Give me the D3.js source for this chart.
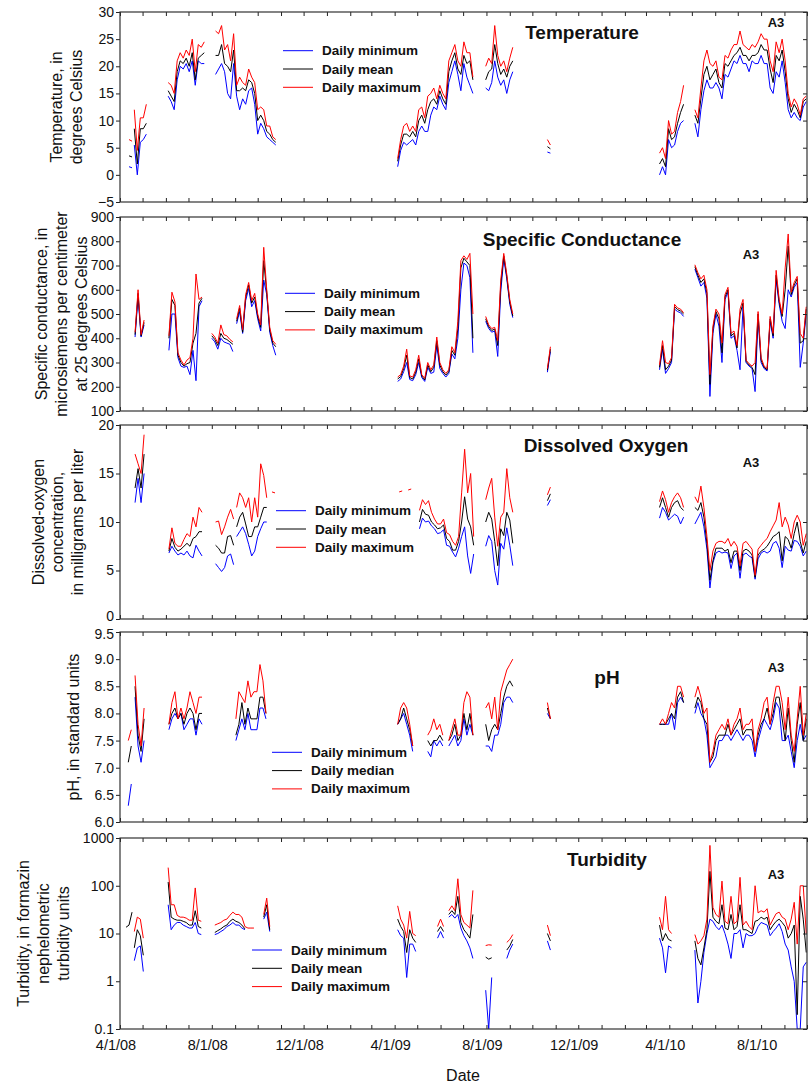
<!DOCTYPE html>
<html>
<head>
<meta charset="utf-8">
<title>Water-quality monitor A3, 2008-2010</title>
<script src="https://d3js.org/d3.v7.min.js"></script>
<style>
  body { margin: 0; background: #fff; }
  svg text { font-family: "Liberation Sans", Arial, sans-serif; fill: #111; }
  .tick text { font-size: 14px; }
  .title { font-size: 19px; font-weight: bold; }
  .site { font-size: 13px; font-weight: bold; }
  .legend text { font-size: 13.5px; font-weight: bold; }
  .ytitle { font-size: 16px; }
</style>
</head>
<body>
<svg id="chart" width="811" height="1083"></svg>
<script>
// readings are every 4 days inside each run; a run starts at the date given in *Starts
var stepDays = 4;

// ---------- Temperature (deg C) ----------
var tempStarts = ["2008-04-13", "2008-04-20", "2008-06-04", "2008-08-06", "2009-04-05", "2009-07-31", "2009-10-21", "2010-03-19", "2010-05-05"];
var tempMin = [
  [1.5, 1.3],
  [5.5, 0, 6, 6.5, 7.5],
  [14.5, 13.5, 12, 17.5, 20, 19.5, 20.5, 19, 21, 16.5, 21, 20.5, 20.5],
  [18.5, 19.5, 20.5, 19, 15, 14, 20.5, 14.5, 12, 14, 13, 15.5, 16, 13, 7.5, 9.5, 8.5, 7, 6.5, 6, 5.5],
  [1.5, 4.5, 6, 5.5, 6, 6.5, 5.5, 8, 9, 8, 8, 11, 12.5, 12, 14.5, 13, 12, 17, 19, 21, 18.5, 15.5, 20.5, 18, 16.5, 15],
  [16, 15.5, 17, 21, 18, 16.5, 17.5, 15, 17.5, 19],
  [4.2, 4],
  [0, 1.5, 0, 6.5, 5, 5.5, 8, 9.5, 10],
  [9.5, 7, 12, 15.5, 17.5, 16, 16, 17, 16, 14, 18.5, 18, 19.5, 21, 20.5, 22, 20.5, 20.5, 19, 21, 20.5, 20.5, 22, 20.5, 20.5, 16, 15, 19, 18, 21, 17, 12, 10.5, 11.5, 10.5, 10, 12.5, 13.5]
];
var tempMean = [
  [3.5, 3.3],
  [8.5, 2, 8.5, 8.5, 9.5],
  [15.5, 14.5, 13.5, 19, 21, 20.5, 21.5, 20, 22.5, 17.5, 21.5, 22, 22.5],
  [22, 22, 24, 20.5, 20, 19, 23, 15.5, 15.5, 16, 15.5, 17.5, 17, 15, 10, 11, 10, 8, 7.5, 6.5, 6],
  [2.5, 5.5, 7.5, 7.5, 7, 8, 7, 10, 11, 9.5, 12, 13.5, 14, 13, 15.5, 14, 13, 19, 21, 22.5, 19.5, 18.5, 22, 20.5, 21, 17.5],
  [17.5, 19, 19.5, 24, 20.5, 18.5, 19.5, 18, 20, 21],
  [5.2, 4.8],
  [2, 3, 1.5, 8.5, 6.5, 7, 9.5, 11.5, 13],
  [11, 9.5, 14, 18.5, 20, 17.5, 18.5, 19.5, 17, 16, 20.5, 20, 21, 22, 22.5, 23.5, 22, 22, 21, 22, 22, 22.5, 24, 23, 23, 19.5, 17, 22, 21, 23, 19, 14, 11.5, 13, 12, 10.5, 13.5, 14]
];
var tempMax = [
  [6.5, 6.2],
  [12, 4.5, 10.5, 10.5, 13],
  [17, 16.5, 15, 21, 22.5, 21.5, 23, 22, 25, 19, 24, 23.5, 24.5],
  [26.5, 26, 27.5, 23, 24, 21, 26, 16.5, 18, 17, 16.5, 19.5, 18, 17, 12, 12.5, 12, 9, 9, 7, 6.5],
  [3, 6.5, 9, 9.5, 8, 9, 8, 12, 12.5, 10.5, 14.5, 15, 16, 14, 16.5, 15, 14, 21, 22.5, 24, 21, 20, 24.5, 22.5, 22.5, 18],
  [20, 21.5, 20.5, 27.5, 22, 20, 21, 19, 21.5, 23.5],
  [6.5, 5.5],
  [4, 5, 3, 10, 7.5, 8, 11.5, 13.5, 16.5],
  [12, 10.5, 16, 21, 23, 20.5, 20, 21, 18, 17.5, 22, 21.5, 23, 24, 24, 26.5, 24, 23.5, 23, 24, 23.5, 24.5, 26, 25, 25, 21, 19, 24.5, 22.5, 25, 21, 15, 12.5, 14, 13, 11, 14, 14.5]
];
var tempTicks = [-5, 0, 5, 10, 15, 20, 25, 30];

// ---------- Specific conductance (uS/cm at 25 C) ----------
var condStarts = ["2008-04-21", "2008-06-05", "2008-08-01", "2008-09-03", "2009-04-05", "2009-07-31", "2009-10-21", "2010-03-19", "2010-05-05"];
var condMin = [
  [405, 570, 405, 455],
  [350, 500, 500, 320, 285, 280, 285, 250, 350, 225, 530, 555],
  [400, 385, 355, 400, 385, 380, 375, 345],
  [460, 510, 420, 555, 605, 530, 555, 480, 430, 640, 580, 425, 370, 330],
  [222, 232, 262, 300, 230, 225, 250, 300, 238, 222, 280, 255, 260, 370, 275, 255, 240, 255, 335, 315, 400, 600, 710, 700, 650, 340],
  [470, 440, 425, 430, 325, 590, 730, 645, 540, 485],
  [260, 345],
  [270, 355, 255, 275, 300, 520, 510, 505, 490],
  [685, 650, 615, 630, 565, 160, 420, 500, 450, 300, 560, 590, 400, 410, 350, 270, 530, 300, 285, 275, 180, 480, 300, 275, 265, 470, 400, 640, 540, 470, 440, 600, 570, 610, 630, 280, 380, 500]
];
var condMean = [
  [415, 585, 410, 465],
  [400, 560, 535, 330, 300, 285, 295, 300, 380, 420, 545, 565],
  [410, 395, 370, 420, 400, 395, 385, 375],
  [470, 525, 425, 570, 620, 545, 570, 490, 445, 720, 590, 435, 380, 365],
  [232, 242, 275, 330, 238, 232, 260, 315, 245, 228, 290, 262, 280, 390, 290, 262, 248, 262, 350, 330, 440, 690, 730, 715, 700, 400],
  [480, 448, 432, 438, 370, 620, 740, 655, 550, 492],
  [268, 355],
  [280, 370, 270, 285, 310, 530, 518, 512, 500],
  [695, 660, 630, 645, 585, 210, 440, 510, 480, 340, 570, 600, 410, 420, 360, 500, 545, 305, 290, 280, 250, 500, 310, 280, 270, 480, 410, 660, 550, 490, 600, 780, 580, 620, 645, 380, 390, 520]
];
var condMax = [
  [425, 600, 415, 475],
  [410, 590, 550, 340, 310, 290, 310, 320, 400, 665, 560, 570],
  [420, 405, 380, 455, 415, 410, 395, 385],
  [480, 535, 435, 580, 630, 555, 585, 500, 455, 775, 600, 445, 390, 375],
  [240, 250, 285, 355, 245, 240, 270, 330, 250, 235, 300, 270, 290, 405, 300, 270, 255, 270, 365, 340, 470, 720, 740, 725, 750, 500],
  [490, 455, 440, 445, 390, 640, 750, 665, 560, 500],
  [275, 365],
  [290, 390, 300, 295, 320, 540, 525, 520, 505],
  [703, 670, 645, 660, 600, 250, 450, 520, 500, 380, 580, 610, 420, 430, 370, 520, 560, 310, 295, 285, 300, 510, 320, 285, 275, 490, 420, 680, 560, 500, 690, 830, 590, 630, 655, 420, 400, 530]
];
var condTicks = [100, 200, 300, 400, 500, 600, 700, 800, 900];

// ---------- Dissolved oxygen (mg/L) ----------
var doStarts = ["2008-04-21", "2008-06-05", "2008-08-06", "2008-09-03", "2008-10-20", "2009-04-07", "2009-05-04", "2009-07-31", "2009-10-21", "2010-03-19", "2010-05-05"];
var doMin = [
  [12, 14.5, 12, 15],
  [6.8, 7.5, 7, 6.6, 6.8, 6.6, 7, 6.5, 6.3, 7.6, 7, 6.5],
  [5.7, 5.3, 4.9, 5.3, 6.5, 6.7, 5.6],
  [8.5, 9, 9.5, 8.8, 7.7, 6.5, 7, 8.5, 9.3, 10, 10],
  [null, null],
  [null, null, null, null, null, null, null],
  [9.3, 10.4, 10, 10.1, 9.6, 9.3, 8.8, 8.9, 9.2, 7.6, 7.5, 6.9, 6.4, 7.3, 8.5, 9.5, 6.5, 4.7, 6.7],
  [7.5, 8.6, 8, 5, 3.5, 7.8, 7.2, 9.4, 7.6, 5.5],
  [11.7, 12.3],
  [10.4, 11.5, 11, 10.2, 10.5, 10.8, 10.6, 9.8, 10.5],
  [9.8, 10.4, 11, 9.5, 7.2, 3.2, 5.8, 6.8, 7, 6.8, 6.9, 6.8, 5.2, 6.5, 6.8, 4.2, 6.6, 6.8, 6.5, 6.3, 4.1, 6.2, 6.8, 7, 6.8, 7, 7.8, 8, 7.3, 5.3, 7.5, 7.1, 7, 8.1, 8, 7.5, 6.5, 7]
];
var doMean = [
  [13.5, 15.5, 13.5, 17],
  [7, 8.3, 7.4, 7, 7.2, 7.5, 7.8, 7.5, 8.3, 8.5, 9, 9],
  [7.6, 7.3, 6.8, 6.8, 8.5, 8.6, 7.6],
  [9.5, 10.5, 11, 9.8, 8.5, 8.5, 9.5, 9.5, 10.5, 11.5, 11.5],
  [null, null],
  [null, null, null, null, null, null, null],
  [10, 11.3, 10.8, 10.7, 10, 9.7, 9.3, 9.4, 9.7, 8.3, 8, 7.1, 7.1, 8, 10, 12.6, 10.3, 9.5, 7.6],
  [10, 11, 10.3, 8, 5.5, 9.3, 8.6, 11, 10.2, 7.8],
  [12.2, 12.9],
  [11.5, 12.5, 11.5, 10.5, 11.5, 12, 12.2, 11.5, 11.2],
  [11.5, 11.2, 12, 10.5, 7.8, 4, 6, 7.3, 7.3, 7.3, 7, 7.2, 5.8, 7, 7, 5, 7, 7.2, 7, 6.6, 4.3, 6.6, 7, 7.2, 7.5, 8, 8.5, 8.7, 9, 6, 8.5, 8.2, 7.3, 8.8, 10, 8, 6.8, 8]
];
var doMax = [
  [17, 16, 15, 19],
  [7.2, 9.4, 7.8, 7.5, 7.5, 8.2, 8.8, 8.5, 10.5, 9.5, 11.5, 11],
  [10, 10.1, 8.7, 9.5, 10.5, 11.3, 10.3],
  [11.5, 13, 12.5, 11.5, 12.5, 10, 12.5, 10.5, 16, 14.8, 12.5],
  [13.1, 13.0],
  [13.1, 13.2, null, 13.3, 13.4, null, 13.2],
  [11.2, 12.3, 11.8, 12.2, 11, 10.3, 9.8, 9.8, 10.3, 8.9, 8.7, 8, 7.6, 8.5, 13, 17.5, 13, 15, 8.5],
  [12.3, 13.5, 14.5, 10.5, 7.5, 10.5, 11, 15.5, 12.5, 11],
  [12.8, 13.6],
  [12.1, 13.2, 12.3, 11, 12, 12.6, 13, 12.5, 11.5],
  [12.6, 12, 13.7, 11.5, 8.5, 5, 7, 7.8, 8, 8, 7.8, 8.3, 7.5, 8, 7.5, 5.5, 7.8, 8, 7.6, 7.2, 4.5, 7.2, 7.6, 8, 8.3, 9, 9.6, 10.2, 12, 9.5, 10.5, 9.7, 8.3, 10, 10.7, 10, 7.6, 8.8]
];
var doTicks = [0, 5, 10, 15, 20];

// ---------- pH (standard units) ----------
var phStarts = ["2008-04-12", "2008-04-21", "2008-06-05", "2008-09-02", "2009-04-05", "2009-05-15", "2009-06-12", "2009-07-31", "2009-10-21", "2010-03-19", "2010-05-05"];
var phMin = [
  [6.3, 6.7],
  [8.3, 7.4, 7.1, 7.5],
  [7.7, 7.9, 8, 7.9, 8, 7.7, 7.8, 7.9, 7.9, 7.6, 7.9, 7.8],
  [7.5, 7.7, 7.9, 7.7, 8, 7.7, 7.7, 7.7, 8.1, 8.1, 7.9],
  [7.8, 7.9, 8, 7.8, 7.6, 7.3],
  [7.3, 7.2, 7.5, 7.4, 7.5, 7.4],
  [7.4, 7.5, 7.6, 7.4, 7.5, 7.9, 7.6, 7.8, 7.6],
  [7.4, 7.4, 7.3, 7.6, 7.6, 7.8, 8.2, 8.3, 8.3, 8.2],
  [8.0, 7.9],
  [7.8, 7.8, 7.8, 7.8, 8, 7.7, 8.2, 8.3, 8.2],
  [8.0, 8.2, 8.0, 7.9, 7.6, 7.0, 7.1, 7.2, 7.5, 7.5, 7.6, 7.6, 7.5, 7.6, 7.7, 7.6, 7.5, 7.6, 7.6, 7.5, 7.2, 7.5, 7.7, 7.9, 7.8, 7.7, 7.9, 8.2, 8.1, 7.5, 7.5, 7.6, 7.3, 7.0, 7.5, 7.8, 7.5, 7.6]
];
var phMedian = [
  [7.1, 7.4],
  [8.5, 7.6, 7.3, 7.9],
  [7.8, 8, 8.1, 7.9, 8, 7.8, 8, 8.1, 8, 7.7, 8, 8],
  [7.6, 7.8, 8.2, 7.8, 8.1, 7.9, 7.9, 7.9, 8.3, 8.3, 8],
  [7.8, 7.9, 8.1, 7.9, 7.7, 7.4],
  [7.5, 7.4, 7.5, 7.5, 7.6, 7.5],
  [7.5, 7.6, 7.8, 7.5, 7.6, 8, 7.7, 8, 7.6],
  [7.8, 7.5, 7.7, 7.8, 7.7, 8, 8.3, 8.5, 8.6, 8.5],
  [8.1, 7.9],
  [7.8, 7.8, 7.8, 7.9, 8, 7.9, 8.3, 8.4, 8.2],
  [8.1, 8.3, 8.2, 7.9, 7.8, 7.1, 7.2, 7.5, 7.6, 7.6, 7.6, 7.8, 7.6, 7.7, 7.8, 7.9, 7.6, 7.7, 7.7, 7.7, 7.3, 7.6, 7.8, 7.9, 8.1, 7.8, 8.0, 8.3, 8.3, 7.9, 7.5, 8.1, 7.5, 7.1, 7.8, 8.2, 7.5, 7.9]
];
var phMax = [
  [7.5, 7.7],
  [8.7, 7.8, 7.4, 8.1],
  [7.8, 8.2, 8.4, 7.9, 8.1, 7.9, 8.1, 8.4, 8.2, 8, 8.3, 8.3],
  [7.9, 8.4, 8.3, 8.2, 8.6, 8.3, 8.4, 8.4, 8.9, 8.6, 8],
  [7.8, 8.1, 8.2, 8.1, 7.8, 7.4],
  [7.6, 7.7, 7.9, 7.7, 7.8, 7.6],
  [7.5, 7.7, 7.9, 7.6, 7.6, 8.2, 8.4, 8.3, 7.6],
  [8.1, 8.2, 7.9, 8.3, 7.7, 8.4, 8.6, 8.8, 8.9, 9],
  [8.2, 7.9],
  [7.8, 7.9, 7.8, 8, 8.2, 8.1, 8.5, 8.5, 8.3],
  [8.3, 8.5, 8.3, 8.0, 8.1, 7.1, 7.3, 7.6, 7.7, 7.8, 7.7, 7.9, 7.6, 7.8, 7.9, 8.1, 7.7, 7.8, 7.8, 7.9, 7.3, 7.7, 7.9, 8.2, 8.3, 7.8, 8.2, 8.5, 8.5, 8.2, 7.7, 8.3, 7.6, 7.3, 7.9, 8.5, 7.6, 8.0]
];
var phTicks = [6.0, 6.5, 7.0, 7.5, 8.0, 8.5, 9.0, 9.5];

// ---------- Turbidity (FNU, log scale) ----------
var turbStarts = ["2008-04-09", "2008-04-20", "2008-06-04", "2008-08-05", "2008-10-09", "2009-04-05", "2009-05-28", "2009-06-12", "2009-07-31", "2009-08-28", "2009-10-21", "2010-03-19", "2010-05-05"];
var turbMin = [
  [null, null, null],
  [2.7, 5, 5.5, 1.6],
  [40, 12, 15, 17, 17, 15, 14, 13, 13, 17, 10, 9.5],
  [9.5, 10, 11, 12, 14, 15, 17, 15, 15, 13, 12, null, null, null],
  [20, 28, 11],
  [12, 9, 8, 1.2, 6, 6, 4.2],
  [8, 11, 8],
  [22, 25, 21, 25, 13, 9, 7, 5, 3],
  [0.65, 0.1, 1.2],
  [3, 4.5, 6],
  [7, 4.5],
  [8, 5, 1.5, 5.5, 5],
  [4.5, 0.35, 1.0, 4, 10, 20, 18, 14, 12, 15, 10, 6, 3, 10, 10, 12, 5, 10, 9, 9, 10, 14, 17, 16, 15, 9, 11, 13, 16, 11, 6, 4.5, 2, 1.0, 0.1, 0.1, 2, 2.5]
];
var turbMean = [
  [13.5, 15, 28],
  [5, 12, 9, 3.5],
  [120, 22, 20, 19, 19, 18, 17, 15, 15, 30, 14, 13],
  [10.5, 11.5, 12.5, 14, 15, 18, 20, 18, 17, 15, 12.5, null, null, null],
  [22, 40, 12],
  [20, 14, 11, 4, 12, 8, 6.5],
  [11, 14, 11],
  [25, 30, 25, 60, 17, 12, 10, 8, 25],
  [3.2, 2.9, 3.1],
  [4.5, 5.5, 7.5],
  [10, 7],
  [15, 7, 10, 7.5, 7],
  [7, 3, 2.2, 5, 12, 200, 22, 18, 16, 40, 13, 12, 25, 12, 14, 40, 12, 12, 11, 10, 18, 19, 22, 20, 22, 12, 15, 18, 20, 17, 14, 8, 10, 15, 0.2, 60, 20, 4]
];
var turbMax = [
  [null, null, null],
  [11, 22, 20, 8],
  [240, 40, 40, 24, 22, 22, 21, 19, 19, 90, 19, 18],
  [15, 16, 17, 19, 20, 24, 28, 25, 25, 22, 14, 13, 13, 13],
  [25, 55, 14],
  [38, 20, 15, 8, 29, 10, 9],
  [14, 20, 14],
  [30, 38, 30, 140, 25, 17, 15, 13, 80],
  [5.6, 5.8, 5.7],
  [6.5, 7.5, 9.5],
  [15, 9],
  [22, 12, 60, 12, 10],
  [9.5, 6, 7, 9, 20, 700, 35, 25, 22, 125, 18, 16, 60, 16, 18, 150, 15, 18, 14, 12, 100, 27, 30, 28, 33, 15, 20, 26, 28, 22, 20, 12, 20, 45, 6, 100, 100, 10]
];
var turbTicks = [0.1, 1, 10, 100, 1000];

var dateLabels = ["2008-04-01", "2008-08-01", "2008-12-01", "2009-04-01", "2009-08-01", "2009-12-01", "2010-04-01", "2010-08-01"];

// ---------- layout ----------
var parse = d3.timeParse("%Y-%m-%d");
var left = 120, right = 807;
var svg = d3.select("#chart");

var x = d3.scaleTime()
    .domain([parse("2008-04-01"), parse("2010-10-01")])
    .range([left, right]);
var monthTicks = d3.timeMonth.range(parse("2008-04-01"), parse("2010-10-02"));

// lowDy / highDy nudge the end tick labels where two panels touch
var panels = [
    { key: "temp", top: 12, bottom: 202, scale: d3.scaleLinear(), domain: [-5, 30], ticks: tempTicks, fmt: d3.format("d"),
      starts: tempStarts, series: [tempMin, tempMean, tempMax], lowDy: 0, highDy: 0,
      title: "Temperature", titleX: 582, titleY: 39, siteX: 776, siteY: 27,
      legend: ["Daily minimum", "Daily mean", "Daily maximum"], legX: 283, legY: 50.7,
      ylab: ["Temperature, in", "degrees Celsius"], ylabX: [62, 82] },
    { key: "cond", top: 217, bottom: 411, scale: d3.scaleLinear(), domain: [100, 900], ticks: condTicks, fmt: d3.format("d"),
      starts: condStarts, series: [condMin, condMean, condMax], lowDy: 0, highDy: 0,
      title: "Specific Conductance", titleX: 582, titleY: 246, siteX: 751, siteY: 259,
      legend: ["Daily minimum", "Daily mean", "Daily maximum"], legX: 285, legY: 293.3,
      ylab: ["Specific conductance, in", "microsiemens per centimeter", "at 25 degrees Celsius"], ylabX: [46.5, 66.5, 86.5] },
    { key: "do", top: 425, bottom: 619, scale: d3.scaleLinear(), domain: [0, 20], ticks: doTicks, fmt: d3.format("d"),
      starts: doStarts, series: [doMin, doMean, doMax], lowDy: -2.5, highDy: 0,
      title: "Dissolved Oxygen", titleX: 606, titleY: 452, siteX: 751, siteY: 467,
      legend: ["Daily minimum", "Daily mean", "Daily maximum"], legX: 276, legY: 510.7,
      ylab: ["Dissolved-oxygen", "concentration,", "in milligrams per liter"], ylabX: [43.5, 63, 82.5] },
    { key: "ph", top: 632, bottom: 822, scale: d3.scaleLinear(), domain: [6, 9.5], ticks: phTicks, fmt: d3.format(".1f"),
      starts: phStarts, series: [phMin, phMedian, phMax], lowDy: 0, highDy: 2,
      title: "pH", titleX: 607, titleY: 684, siteX: 776, siteY: 672,
      legend: ["Daily minimum", "Daily median", "Daily maximum"], legX: 272, legY: 752.3,
      ylab: ["pH, in standard units"], ylabX: [78.5] },
    { key: "turb", top: 838, bottom: 1029, scale: d3.scaleLog(), domain: [0.1, 1000], ticks: turbTicks, fmt: function (d) { return String(d); },
      starts: turbStarts, series: [turbMin, turbMean, turbMax], lowDy: 0, highDy: 0,
      title: "Turbidity", titleX: 607, titleY: 866, siteX: 776, siteY: 879,
      legend: ["Daily minimum", "Daily mean", "Daily maximum"], legX: 252, legY: 950,
      ylab: ["Turbidity, in formazin", "nephelometric", "turbidity units"], ylabX: [29, 49, 69] }
];

var colors = ["#0000ff", "#000000", "#ff0000"];

panels.forEach(function (p) {
    var y = p.scale.domain(p.domain).range([p.bottom, p.top]);
    var g = svg.append("g").attr("class", "panel-" + p.key);

    svg.append("clipPath").attr("id", "clip-" + p.key)
        .append("rect")
        .attr("x", left).attr("y", p.top)
        .attr("width", right - left).attr("height", p.bottom - p.top);

    var line = d3.line()
        .defined(function (d) { return d.v != null; })
        .x(function (d) { return x(d.date); })
        .y(function (d) { return y(d.v); });

    // min, mean, max -> blue, black, red (red drawn last, on top)
    var plot = g.append("g").attr("clip-path", "url(#clip-" + p.key + ")");
    p.series.forEach(function (runs, si) {
        runs.forEach(function (vals, ri) {
            var start = parse(p.starts[ri]);
            var pts = vals.map(function (v, k) {
                return { date: d3.timeDay.offset(start, k * stepDays), v: v };
            });
            plot.append("path")
                .datum(pts)
                .attr("d", line)
                .attr("fill", "none")
                .attr("stroke", colors[si])
                .attr("stroke-width", 1)
                .attr("stroke-linejoin", "round");
        });
    });

    // left axis, ticks outward
    var yAxis = g.append("g")
        .attr("transform", "translate(" + left + ",0)")
        .call(d3.axisLeft(y).tickValues(p.ticks).tickFormat(p.fmt).tickSize(4).tickPadding(2));
    // right axis, ticks inward
    var yAxisR = g.append("g")
        .attr("transform", "translate(" + right + ",0)")
        .call(d3.axisLeft(y).tickValues(p.ticks).tickFormat("").tickSize(4));
    // top and bottom month ticks, inward
    var xTop = g.append("g")
        .attr("transform", "translate(0," + p.top + ")")
        .call(d3.axisBottom(x).tickValues(monthTicks).tickFormat("").tickSize(4));
    var xBot = g.append("g")
        .attr("transform", "translate(0," + p.bottom + ")")
        .call(d3.axisTop(x).tickValues(monthTicks).tickFormat("").tickSize(4));
    [yAxis, yAxisR, xTop, xBot].forEach(function (a) {
        a.select(".domain").remove();
        a.selectAll(".tick line").attr("stroke", "#222");
    });
    var labels = yAxis.selectAll(".tick text").attr("fill", "#111");
    labels.filter(function (d) { return d === p.domain[0]; })
        .attr("transform", "translate(0," + p.lowDy + ")");
    labels.filter(function (d) { return d === p.domain[1]; })
        .attr("transform", "translate(0," + p.highDy + ")");

    // frame
    g.append("rect")
        .attr("x", left).attr("y", p.top)
        .attr("width", right - left).attr("height", p.bottom - p.top)
        .attr("fill", "none").attr("stroke", "#333").attr("stroke-width", 1.2);

    // panel title and site id
    g.append("text").attr("class", "title")
        .attr("x", p.titleX).attr("y", p.titleY)
        .attr("text-anchor", "middle").text(p.title);
    g.append("text").attr("class", "site")
        .attr("x", p.siteX).attr("y", p.siteY)
        .attr("text-anchor", "middle").text("A3");

    // legend
    var leg = g.append("g").attr("class", "legend");
    p.legend.forEach(function (name, i) {
        var ly = p.legY + i * 18.3;
        leg.append("line")
            .attr("x1", p.legX).attr("x2", p.legX + 30)
            .attr("y1", ly).attr("y2", ly)
            .attr("stroke", colors[i]).attr("stroke-width", 1);
        leg.append("text")
            .attr("x", p.legX + 39).attr("y", ly)
            .attr("dominant-baseline", "central")
            .text(name);
    });

    // y axis title, rotated
    var cy = (p.top + p.bottom) / 2;
    p.ylab.forEach(function (txt, i) {
        g.append("text").attr("class", "ytitle")
            .attr("transform", "translate(" + p.ylabX[i] + "," + cy + ") rotate(-90)")
            .attr("text-anchor", "middle")
            .text(txt);
    });
});

// date labels under the last panel
var fmtDate = d3.timeFormat("%-m/%-d/%y");
svg.append("g").selectAll("text")
    .data(dateLabels)
    .enter().append("text")
    .attr("x", function (d) { return x(parse(d)) - 4; })
    .attr("y", 1050)
    .attr("text-anchor", "middle")
    .style("font-size", "14.5px")
    .text(function (d) { return fmtDate(parse(d)); });

svg.append("text")
    .attr("x", 463).attr("y", 1081)
    .attr("text-anchor", "middle")
    .style("font-size", "16px")
    .text("Date");
</script>
</body>
</html>
